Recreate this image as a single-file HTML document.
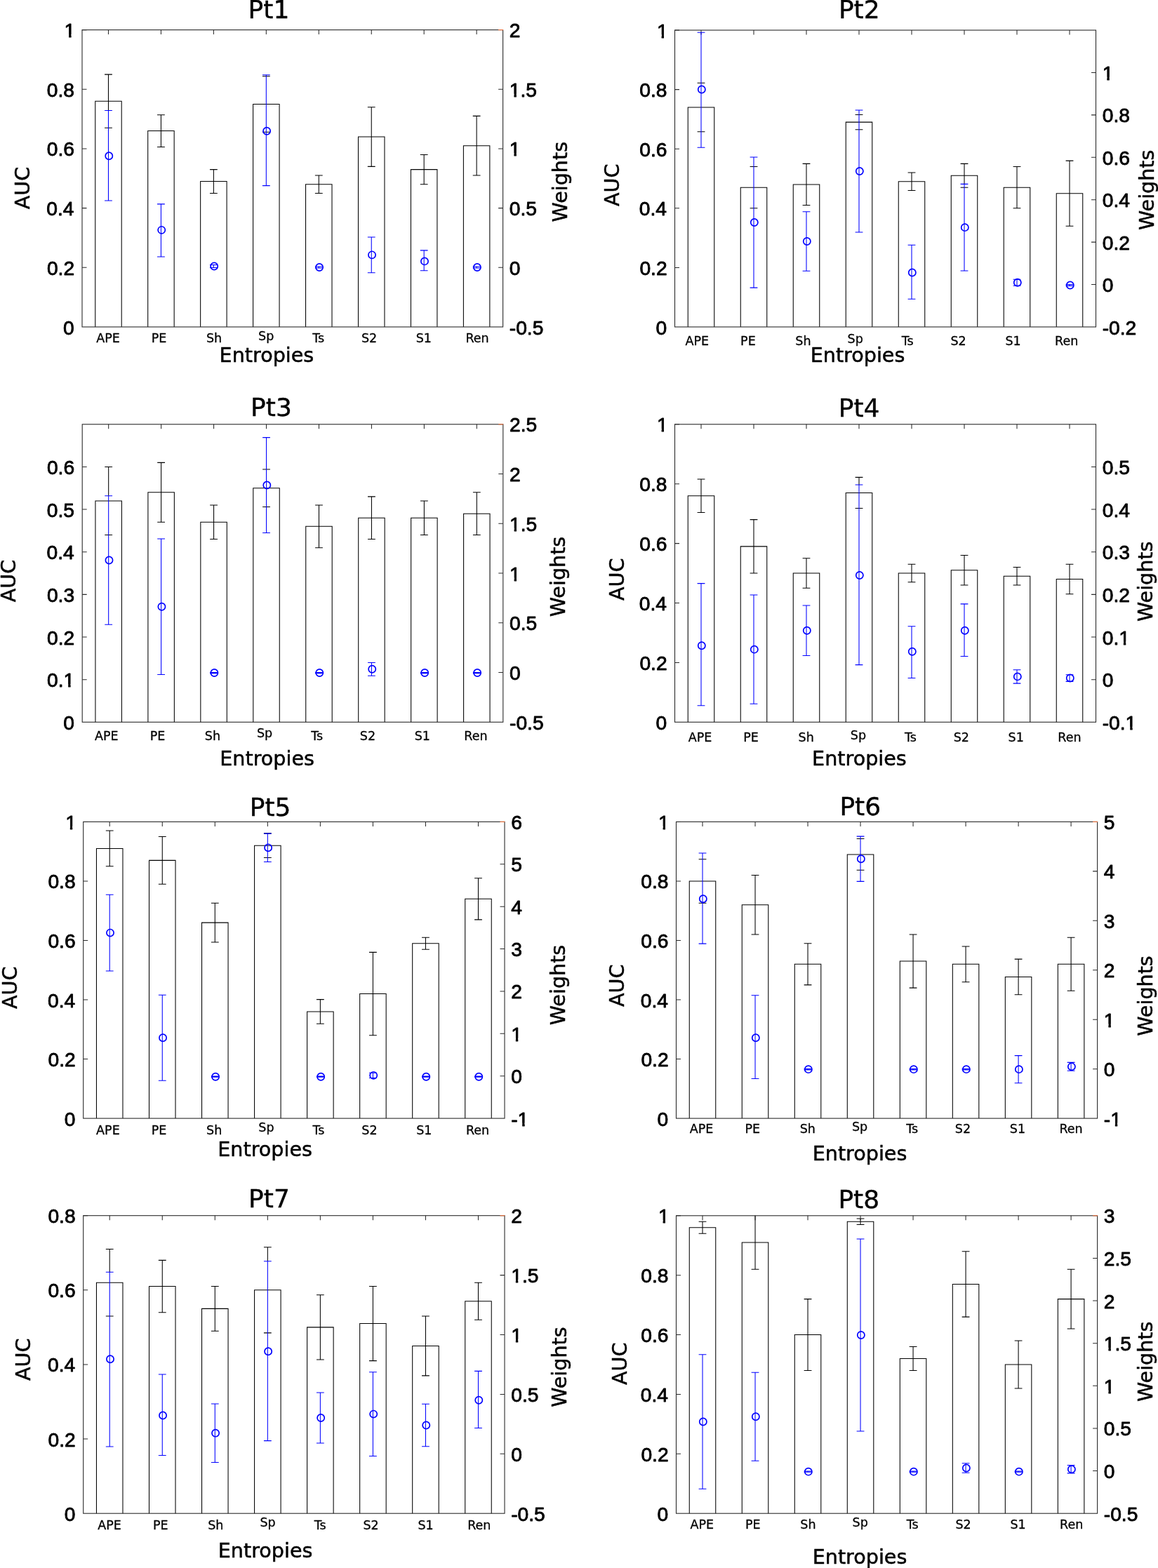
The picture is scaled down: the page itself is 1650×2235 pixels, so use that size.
<!DOCTYPE html>
<html lang="en">
<head>
<meta charset="utf-8">
<title>AUC and weights per entropy, Pt1-Pt8</title>
<style>
html,body{margin:0;padding:0;background:#fff;}
body{width:1650px;height:2235px;overflow:hidden;}
svg{display:block;}
.bar{fill:none;stroke:#000;stroke-width:1.05;stroke-linejoin:miter;}
.err{fill:none;stroke:#000;stroke-width:1.05;}
.ax{fill:none;stroke:#2b2b2b;stroke-width:1.1;}
.tick{fill:none;stroke:#2b2b2b;stroke-width:1.05;}
.or{fill:none;stroke:#ec7440;stroke-width:1.15;}
.be{fill:none;stroke:#0000ff;stroke-width:1.05;}
.bc{fill:none;stroke:#0000ff;stroke-width:1.7;}
text{fill:#000;}
.tl{font-family:"Liberation Sans",Arial,Helvetica,sans-serif;font-size:28.2px;stroke:#000;stroke-width:0.85px;stroke-linejoin:round;}
.xt{font-family:"DejaVu Sans","Liberation Sans",sans-serif;font-size:17.5px;stroke:#000;stroke-width:0.3px;stroke-linejoin:round;}
.lb{font-family:"DejaVu Sans","Liberation Sans",sans-serif;font-size:28.6px;stroke:#000;stroke-width:0.5px;stroke-linejoin:round;}
.ti{font-family:"DejaVu Sans","Liberation Sans",sans-serif;font-size:36.0px;stroke:#000;stroke-width:0.4px;stroke-linejoin:round;}
</style>
</head>
<body>
<svg width="1650" height="2235" viewBox="0 0 1650 2235">
<defs>
<clipPath id="k0"><path clip-rule="evenodd" d="M-20 -60H160V30H-20ZM-1.2 -4.13H6.67V3.42H-1.2ZM10.01 -4.13H16.73V3.42H10.01Z"/></clipPath>
<clipPath id="k1"><path clip-rule="evenodd" d="M-20 -60H160V30H-20ZM-1.2 -4.13H6.67V3.42H-1.2ZM10.01 -4.13H16.73V3.42H10.01Z"/></clipPath>
<clipPath id="k2"><path clip-rule="evenodd" d="M-20 -60H160V30H-20ZM22.32 -4.13H30.19V3.42H22.32ZM33.53 -4.13H40.25V3.42H33.53Z"/></clipPath>
<clipPath id="k3"><path clip-rule="evenodd" d="M-20 -60H160V30H-20ZM31.71 -4.13H39.58V3.42H31.71ZM42.92 -4.13H49.64V3.42H42.92Z"/></clipPath>
<clipPath id="k4"><path clip-rule="evenodd" d="M-20 -60H160V30H-20ZM8.19 -4.13H16.06V3.42H8.19ZM19.4 -4.13H26.12V3.42H19.4Z"/></clipPath>
</defs>
<rect x="0" y="0" width="1650" height="2235" fill="#fff"/>
<g id="Pt1">
<path class="bar" d="M135.74 466V144.22H173.21V466"/>
<path class="bar" d="M210.69 466V186.56H248.16V466"/>
<path class="bar" d="M285.64 466V258.53H323.11V466"/>
<path class="bar" d="M360.59 466V148.45H398.06V466"/>
<path class="bar" d="M435.54 466V262.77H473.01V466"/>
<path class="bar" d="M510.49 466V195.02H547.96V466"/>
<path class="bar" d="M585.44 466V241.6H622.91V466"/>
<path class="bar" d="M660.39 466V207.73H697.86V466"/>
<path class="err" d="M154.47 106.11V157.43M149.07 106.11h10.8M149.07 182.32h10.8"/>
<path class="err" d="M229.43 163.69V209.42M224.03 163.69h10.8M224.03 209.42h10.8"/>
<path class="err" d="M304.38 241.6V275.47M298.98 241.6h10.8M298.98 275.47h10.8"/>
<path class="err" d="M373.93 108.65h10.8M373.93 188.25h10.8"/>
<path class="err" d="M454.28 250.07V275.47M448.88 250.07h10.8M448.88 275.47h10.8"/>
<path class="err" d="M529.23 152.68V237.36M523.83 152.68h10.8M523.83 237.36h10.8"/>
<path class="err" d="M604.17 220.43V262.77M598.77 220.43h10.8M598.77 262.77h10.8"/>
<path class="err" d="M679.12 165.39V250.07M673.73 165.39h10.8M673.73 250.07h10.8"/>
<rect class="ax" x="117" y="42.6" width="599.6" height="423.4"/>
<path class="tick" d="M154.47 42.6v6.5M229.43 42.6v6.5M304.38 42.6v6.5M379.32 42.6v6.5M454.28 42.6v6.5M529.23 42.6v6.5M604.17 42.6v6.5M679.12 42.6v6.5M117 381.32h6.5M117 296.64h6.5M117 211.96h6.5M117 127.28h6.5M117 42.6h6.5M716.6 381.32h-6.5M716.6 296.64h-6.5M716.6 211.96h-6.5M716.6 127.28h-6.5"/>
<path class="or" d="M710.1 42.6h6.9"/>
<path class="be" d="M154.47 157.43V285.97M149.07 157.43h10.8M149.07 285.97h10.8"/>
<circle class="bc" cx="155.28" cy="222.29" r="5.1"/>
<path class="be" d="M229.43 290.86V366.06M224.03 290.86h10.8M224.03 366.06h10.8"/>
<circle class="bc" cx="230.23" cy="327.87" r="5.1"/>
<path class="be" d="M304.38 377.42V381.49M298.98 377.42h10.8M298.98 381.49h10.8"/>
<circle class="bc" cx="305.18" cy="379.46" r="5.1"/>
<path class="be" d="M379.32 106.79V264.63M373.93 106.79h10.8M373.93 264.63h10.8"/>
<circle class="bc" cx="380.12" cy="186.73" r="5.1"/>
<path class="be" d="M454.28 379.97V382M448.88 379.97h10.8M448.88 382h10.8"/>
<circle class="bc" cx="455.08" cy="380.98" r="5.1"/>
<path class="be" d="M529.23 337.96V388.77M523.83 337.96h10.8M523.83 388.77h10.8"/>
<circle class="bc" cx="530.02" cy="363.37" r="5.1"/>
<path class="be" d="M604.17 356.88V385.69M598.77 356.88h10.8M598.77 385.69h10.8"/>
<circle class="bc" cx="604.97" cy="372.41" r="5.1"/>
<path class="be" d="M679.12 379.97V382M673.73 379.97h10.8M673.73 382h10.8"/>
<circle class="bc" cx="679.92" cy="380.98" r="5.1"/>
<text class="tl" transform="translate(90.11 476.5)">0</text>
<text class="tl" transform="translate(66.91 391.82)">0.2</text>
<text class="tl" transform="translate(66.28 307.14)">0.4</text>
<text class="tl" transform="translate(66.7 222.46)">0.6</text>
<text class="tl" transform="translate(66.7 137.78)">0.8</text>
<text class="tl" clip-path="url(#k0)" transform="translate(91.49 53.1)">1</text>
<text class="tl" transform="translate(725.8 476.5)">-0.5</text>
<text class="tl" transform="translate(725.8 391.82)">0</text>
<text class="tl" transform="translate(725.8 307.14)">0.5</text>
<text class="tl" clip-path="url(#k0)" transform="translate(725.8 222.46)">1</text>
<text class="tl" clip-path="url(#k1)" transform="translate(725.8 137.78)">1.5</text>
<text class="tl" transform="translate(725.8 53.1)">2</text>
<text class="xt" x="137.18" y="488">APE</text>
<text class="xt" x="215.73" y="488">PE</text>
<text class="xt" x="293.94" y="488">Sh</text>
<text class="xt" x="368.12" y="484.7">Sp</text>
<text class="xt" x="445.27" y="488">Ts</text>
<text class="xt" x="514.92" y="488">S2</text>
<text class="xt" x="592.78" y="488">S1</text>
<text class="xt" x="663.39" y="488">Ren</text>
<text class="ti" x="353.59" y="25.8">Pt1</text>
<text class="lb" x="312.61" y="515.8">Entropies</text>
<text class="lb" transform="translate(42.3 268.7) rotate(-90)" x="-29.57" y="0">AUC</text>
<text class="lb" transform="translate(808.4 259.4) rotate(-90)" x="-57.06" y="0">Weights</text>
</g>
<g id="Pt2">
<path class="bar" d="M980.25 466V152.98H1017.75V466"/>
<path class="bar" d="M1055.25 466V267.19H1092.75V466"/>
<path class="bar" d="M1130.25 466V262.96H1167.75V466"/>
<path class="bar" d="M1205.25 466V174.13H1242.75V466"/>
<path class="bar" d="M1280.25 466V258.73H1317.75V466"/>
<path class="bar" d="M1355.25 466V250.27H1392.75V466"/>
<path class="bar" d="M1430.25 466V267.19H1467.75V466"/>
<path class="bar" d="M1505.25 466V275.65H1542.75V466"/>
<path class="err" d="M993.6 118.29h10.8M993.6 187.67h10.8"/>
<path class="err" d="M1068.6 237.58h10.8M1068.6 296.8h10.8"/>
<path class="err" d="M1149 233.35V292.57M1143.6 233.35h10.8M1143.6 292.57h10.8"/>
<path class="err" d="M1218.6 163.56h10.8M1218.6 184.71h10.8"/>
<path class="err" d="M1299 246.04V271.42M1293.6 246.04h10.8M1293.6 271.42h10.8"/>
<path class="err" d="M1374 233.35V262.36M1368.6 233.35h10.8M1368.6 267.19h10.8"/>
<path class="err" d="M1449 237.58V296.8M1443.6 237.58h10.8M1443.6 296.8h10.8"/>
<path class="err" d="M1524 229.12V322.18M1518.6 229.12h10.8M1518.6 322.18h10.8"/>
<rect class="ax" x="961.5" y="43" width="600" height="423"/>
<path class="tick" d="M999 43v6.5M1074 43v6.5M1149 43v6.5M1224 43v6.5M1299 43v6.5M1374 43v6.5M1449 43v6.5M1524 43v6.5M961.5 381.4h6.5M961.5 296.8h6.5M961.5 212.2h6.5M961.5 127.6h6.5M961.5 43h6.5M1561.5 405.57h-6.5M1561.5 345.14h-6.5M1561.5 284.71h-6.5M1561.5 224.29h-6.5M1561.5 163.86h-6.5M1561.5 103.43h-6.5"/>
<path class="be" d="M999 46.2V210.27M993.6 46.2h10.8M993.6 210.27h10.8"/>
<circle class="bc" cx="999.8" cy="127.48" r="5.1"/>
<path class="be" d="M1074 223.98V410.1M1068.6 223.98h10.8M1068.6 410.1h10.8"/>
<circle class="bc" cx="1074.8" cy="317.04" r="5.1"/>
<path class="be" d="M1149 301.69V386.29M1143.6 301.69h10.8M1143.6 386.29h10.8"/>
<circle class="bc" cx="1149.8" cy="343.99" r="5.1"/>
<path class="be" d="M1224 156.97V331M1218.6 156.97h10.8M1218.6 331h10.8"/>
<circle class="bc" cx="1224.8" cy="243.99" r="5.1"/>
<path class="be" d="M1299 349.22V426.27M1293.6 349.22h10.8M1293.6 426.27h10.8"/>
<circle class="bc" cx="1299.8" cy="388.5" r="5.1"/>
<path class="be" d="M1374 262.36V385.93M1368.6 262.36h10.8M1368.6 385.93h10.8"/>
<circle class="bc" cx="1374.8" cy="324.14" r="5.1"/>
<path class="be" d="M1449 398.17V407.23M1443.6 398.17h10.8M1443.6 407.23h10.8"/>
<circle class="bc" cx="1449.8" cy="402.7" r="5.1"/>
<path class="be" d="M1524 405.57V407.38M1518.6 405.57h10.8M1518.6 407.38h10.8"/>
<circle class="bc" cx="1524.8" cy="406.48" r="5.1"/>
<text class="tl" transform="translate(934.61 476.5)">0</text>
<text class="tl" transform="translate(911.41 391.9)">0.2</text>
<text class="tl" transform="translate(910.78 307.3)">0.4</text>
<text class="tl" transform="translate(911.2 222.7)">0.6</text>
<text class="tl" transform="translate(911.2 138.1)">0.8</text>
<text class="tl" clip-path="url(#k0)" transform="translate(935.99 53.5)">1</text>
<text class="tl" transform="translate(1570.7 476.5)">-0.2</text>
<text class="tl" transform="translate(1570.7 416.07)">0</text>
<text class="tl" transform="translate(1570.7 355.64)">0.2</text>
<text class="tl" transform="translate(1570.7 295.21)">0.4</text>
<text class="tl" transform="translate(1570.7 234.79)">0.6</text>
<text class="tl" transform="translate(1570.7 174.36)">0.8</text>
<text class="tl" clip-path="url(#k0)" transform="translate(1570.7 113.93)">1</text>
<text class="xt" x="976.5" y="491.8">APE</text>
<text class="xt" x="1055.11" y="491.8">PE</text>
<text class="xt" x="1133.36" y="491.8">Sh</text>
<text class="xt" x="1207.6" y="488.5">Sp</text>
<text class="xt" x="1284.79" y="491.8">Ts</text>
<text class="xt" x="1354.49" y="491.8">S2</text>
<text class="xt" x="1432.41" y="491.8">S1</text>
<text class="xt" x="1503.07" y="491.8">Ren</text>
<text class="ti" x="1194.89" y="26.3">Pt2</text>
<text class="lb" x="1154.71" y="515.8">Entropies</text>
<text class="lb" transform="translate(881.8 264.4) rotate(-90)" x="-29.57" y="0">AUC</text>
<text class="lb" transform="translate(1644 271) rotate(-90)" x="-57.06" y="0">Weights</text>
</g>
<g id="Pt3">
<path class="bar" d="M135.94 1029.3V713.96H173.41V1029.3"/>
<path class="bar" d="M210.89 1029.3V701.83H248.36V1029.3"/>
<path class="bar" d="M285.84 1029.3V744.28H323.31V1029.3"/>
<path class="bar" d="M360.79 1029.3V695.76H398.26V1029.3"/>
<path class="bar" d="M435.74 1029.3V750.34H473.21V1029.3"/>
<path class="bar" d="M510.69 1029.3V738.21H548.16V1029.3"/>
<path class="bar" d="M585.64 1029.3V738.21H623.11V1029.3"/>
<path class="bar" d="M660.59 1029.3V732.15H698.06V1029.3"/>
<path class="err" d="M154.68 665.44V706.82M149.28 665.44h10.8M149.28 762.47h10.8"/>
<path class="err" d="M229.62 659.38V744.28M224.22 659.38h10.8M224.22 744.28h10.8"/>
<path class="err" d="M304.57 720.02V768.54M299.18 720.02h10.8M299.18 768.54h10.8"/>
<path class="err" d="M374.12 669.08h10.8M374.12 722.45h10.8"/>
<path class="err" d="M454.47 720.02V780.66M449.07 720.02h10.8M449.07 780.66h10.8"/>
<path class="err" d="M529.42 707.89V768.54M524.02 707.89h10.8M524.02 768.54h10.8"/>
<path class="err" d="M604.38 713.96V762.47M598.98 713.96h10.8M598.98 762.47h10.8"/>
<path class="err" d="M679.32 701.83V762.47M673.92 701.83h10.8M673.92 762.47h10.8"/>
<rect class="ax" x="117.2" y="604.8" width="599.6" height="424.5"/>
<path class="tick" d="M154.68 604.8v6.5M229.62 604.8v6.5M304.57 604.8v6.5M379.52 604.8v6.5M454.47 604.8v6.5M529.42 604.8v6.5M604.38 604.8v6.5M679.32 604.8v6.5M117.2 968.66h6.5M117.2 908.01h6.5M117.2 847.37h6.5M117.2 786.73h6.5M117.2 726.09h6.5M117.2 665.44h6.5M716.8 958.55h-6.5M716.8 887.8h-6.5M716.8 817.05h-6.5M716.8 746.3h-6.5M716.8 675.55h-6.5"/>
<path class="or" d="M710.3 604.8h6.9"/>
<path class="be" d="M154.68 706.82V890.21M149.28 706.82h10.8M149.28 890.21h10.8"/>
<circle class="bc" cx="155.48" cy="798.51" r="5.1"/>
<path class="be" d="M229.62 768.02V961.59M224.22 768.02h10.8M224.22 961.59h10.8"/>
<circle class="bc" cx="230.43" cy="864.81" r="5.1"/>
<path class="be" d="M304.57 958.48V959.61M299.18 958.48h10.8M299.18 959.61h10.8"/>
<circle class="bc" cx="305.38" cy="959.05" r="5.1"/>
<path class="be" d="M379.52 623.62V759.46M374.12 623.62h10.8M374.12 759.46h10.8"/>
<circle class="bc" cx="380.32" cy="691.54" r="5.1"/>
<path class="be" d="M454.47 958.48V959.61M449.07 958.48h10.8M449.07 959.61h10.8"/>
<circle class="bc" cx="455.27" cy="959.05" r="5.1"/>
<path class="be" d="M529.42 944.41V963.21M524.02 944.41h10.8M524.02 963.21h10.8"/>
<circle class="bc" cx="530.22" cy="953.81" r="5.1"/>
<path class="be" d="M604.38 958.48V959.61M598.98 958.48h10.8M598.98 959.61h10.8"/>
<circle class="bc" cx="605.17" cy="959.05" r="5.1"/>
<path class="be" d="M679.32 958.48V959.61M673.92 958.48h10.8M673.92 959.61h10.8"/>
<circle class="bc" cx="680.12" cy="959.05" r="5.1"/>
<text class="tl" transform="translate(90.31 1039.8)">0</text>
<text class="tl" clip-path="url(#k2)" transform="translate(67.04 979.16)">0.1</text>
<text class="tl" transform="translate(67.11 918.51)">0.2</text>
<text class="tl" transform="translate(66.9 857.87)">0.3</text>
<text class="tl" transform="translate(66.48 797.23)">0.4</text>
<text class="tl" transform="translate(66.83 736.59)">0.5</text>
<text class="tl" transform="translate(66.9 675.94)">0.6</text>
<text class="tl" transform="translate(726 1039.8)">-0.5</text>
<text class="tl" transform="translate(726 969.05)">0</text>
<text class="tl" transform="translate(726 898.3)">0.5</text>
<text class="tl" clip-path="url(#k0)" transform="translate(726 827.55)">1</text>
<text class="tl" clip-path="url(#k1)" transform="translate(726 756.8)">1.5</text>
<text class="tl" transform="translate(726 686.05)">2</text>
<text class="tl" transform="translate(726 615.3)">2.5</text>
<text class="xt" x="135.08" y="1054.5">APE</text>
<text class="xt" x="213.63" y="1054.5">PE</text>
<text class="xt" x="291.84" y="1054.5">Sh</text>
<text class="xt" x="366.02" y="1051.2">Sp</text>
<text class="xt" x="443.17" y="1054.5">Ts</text>
<text class="xt" x="512.82" y="1054.5">S2</text>
<text class="xt" x="590.68" y="1054.5">S1</text>
<text class="xt" x="661.29" y="1054.5">Ren</text>
<text class="ti" x="357.09" y="592.6">Pt3</text>
<text class="lb" x="313.31" y="1091.3">Entropies</text>
<text class="lb" transform="translate(21.6 828.7) rotate(-90)" x="-29.57" y="0">AUC</text>
<text class="lb" transform="translate(804.6 822.2) rotate(-90)" x="-57.06" y="0">Weights</text>
</g>
<g id="Pt4">
<path class="bar" d="M980.25 1029.3V706.68H1017.75V1029.3"/>
<path class="bar" d="M1055.25 1029.3V778.85H1092.75V1029.3"/>
<path class="bar" d="M1130.25 1029.3V817.05H1167.75V1029.3"/>
<path class="bar" d="M1205.25 1029.3V702.43H1242.75V1029.3"/>
<path class="bar" d="M1280.25 1029.3V817.05H1317.75V1029.3"/>
<path class="bar" d="M1355.25 1029.3V812.8H1392.75V1029.3"/>
<path class="bar" d="M1430.25 1029.3V821.29H1467.75V1029.3"/>
<path class="bar" d="M1505.25 1029.3V825.54H1542.75V1029.3"/>
<path class="err" d="M999 682.91V730.45M993.6 682.91h10.8M993.6 730.45h10.8"/>
<path class="err" d="M1074 740.64V817.05M1068.6 740.64h10.8M1068.6 817.05h10.8"/>
<path class="err" d="M1149 795.82V838.27M1143.6 795.82h10.8M1143.6 838.27h10.8"/>
<path class="err" d="M1224 680.36V690.91M1218.6 680.36h10.8M1218.6 724.51h10.8"/>
<path class="err" d="M1299 804.31V829.78M1293.6 804.31h10.8M1293.6 829.78h10.8"/>
<path class="err" d="M1374 791.58V834.03M1368.6 791.58h10.8M1368.6 834.03h10.8"/>
<path class="err" d="M1449 808.56V834.03M1443.6 808.56h10.8M1443.6 834.03h10.8"/>
<path class="err" d="M1524 804.31V846.76M1518.6 804.31h10.8M1518.6 846.76h10.8"/>
<rect class="ax" x="961.5" y="604.8" width="600" height="424.5"/>
<path class="tick" d="M999 604.8v6.5M1074 604.8v6.5M1149 604.8v6.5M1224 604.8v6.5M1299 604.8v6.5M1374 604.8v6.5M1449 604.8v6.5M1524 604.8v6.5M961.5 944.4h6.5M961.5 859.5h6.5M961.5 774.6h6.5M961.5 689.7h6.5M961.5 604.8h6.5M1561.5 968.66h-6.5M1561.5 908.01h-6.5M1561.5 847.37h-6.5M1561.5 786.73h-6.5M1561.5 726.09h-6.5M1561.5 665.44h-6.5"/>
<path class="be" d="M999 831.6V1005.83M993.6 831.6h10.8M993.6 1005.83h10.8"/>
<circle class="bc" cx="999.8" cy="920.32" r="5.1"/>
<path class="be" d="M1074 848.04V1003.28M1068.6 848.04h10.8M1068.6 1003.28h10.8"/>
<circle class="bc" cx="1074.8" cy="925.66" r="5.1"/>
<path class="be" d="M1149 862.96V934.52M1143.6 862.96h10.8M1143.6 934.52h10.8"/>
<circle class="bc" cx="1149.8" cy="898.74" r="5.1"/>
<path class="be" d="M1224 690.91V947.61M1218.6 690.91h10.8M1218.6 947.61h10.8"/>
<circle class="bc" cx="1224.8" cy="819.96" r="5.1"/>
<path class="be" d="M1299 892.73V966.41M1293.6 892.73h10.8M1293.6 966.41h10.8"/>
<circle class="bc" cx="1299.8" cy="928.81" r="5.1"/>
<path class="be" d="M1374 860.89V935.55M1368.6 860.89h10.8M1368.6 935.55h10.8"/>
<circle class="bc" cx="1374.8" cy="898.74" r="5.1"/>
<path class="be" d="M1449 954.71V974.12M1443.6 954.71h10.8M1443.6 974.12h10.8"/>
<circle class="bc" cx="1449.8" cy="964.41" r="5.1"/>
<path class="be" d="M1524 961.68V971.39M1518.6 961.68h10.8M1518.6 971.39h10.8"/>
<circle class="bc" cx="1524.8" cy="966.53" r="5.1"/>
<text class="tl" transform="translate(934.61 1039.8)">0</text>
<text class="tl" transform="translate(911.41 954.9)">0.2</text>
<text class="tl" transform="translate(910.78 870)">0.4</text>
<text class="tl" transform="translate(911.2 785.1)">0.6</text>
<text class="tl" transform="translate(911.2 700.2)">0.8</text>
<text class="tl" clip-path="url(#k0)" transform="translate(935.99 615.3)">1</text>
<text class="tl" clip-path="url(#k3)" transform="translate(1570.7 1039.8)">-0.1</text>
<text class="tl" transform="translate(1570.7 979.16)">0</text>
<text class="tl" clip-path="url(#k2)" transform="translate(1570.7 918.51)">0.1</text>
<text class="tl" transform="translate(1570.7 857.87)">0.2</text>
<text class="tl" transform="translate(1570.7 797.23)">0.3</text>
<text class="tl" transform="translate(1570.7 736.59)">0.4</text>
<text class="tl" transform="translate(1570.7 675.94)">0.5</text>
<text class="xt" x="980.7" y="1056.9">APE</text>
<text class="xt" x="1059.31" y="1056.9">PE</text>
<text class="xt" x="1137.56" y="1056.9">Sh</text>
<text class="xt" x="1211.8" y="1053.6">Sp</text>
<text class="xt" x="1288.99" y="1056.9">Ts</text>
<text class="xt" x="1358.69" y="1056.9">S2</text>
<text class="xt" x="1436.61" y="1056.9">S1</text>
<text class="xt" x="1507.27" y="1056.9">Ren</text>
<text class="ti" x="1194.69" y="594">Pt4</text>
<text class="lb" x="1157.11" y="1090.6">Entropies</text>
<text class="lb" transform="translate(889.4 826.5) rotate(-90)" x="-29.57" y="0">AUC</text>
<text class="lb" transform="translate(1642 829) rotate(-90)" x="-57.06" y="0">Weights</text>
</g>
<g id="Pt5">
<path class="bar" d="M137.46 1594.1V1209.44H174.98V1594.1"/>
<path class="bar" d="M212.5 1594.1V1226.35H250.02V1594.1"/>
<path class="bar" d="M287.53 1594.1V1315.12H325.05V1594.1"/>
<path class="bar" d="M362.57 1594.1V1205.22H400.09V1594.1"/>
<path class="bar" d="M437.61 1594.1V1441.93H475.13V1594.1"/>
<path class="bar" d="M512.65 1594.1V1416.57H550.17V1594.1"/>
<path class="bar" d="M587.68 1594.1V1344.71H625.2V1594.1"/>
<path class="bar" d="M662.72 1594.1V1281.3H700.24V1594.1"/>
<path class="err" d="M156.22 1184.08V1234.81M150.82 1184.08h10.8M150.82 1234.81h10.8"/>
<path class="err" d="M231.26 1192.54V1260.17M225.86 1192.54h10.8M225.86 1260.17h10.8"/>
<path class="err" d="M306.29 1287.22V1343.02M300.89 1287.22h10.8M300.89 1343.02h10.8"/>
<path class="err" d="M381.33 1187.89V1188.13M375.93 1187.89h10.8M375.93 1222.55h10.8"/>
<path class="err" d="M456.37 1424.6V1459.26M450.97 1424.6h10.8M450.97 1459.26h10.8"/>
<path class="err" d="M531.41 1357.39V1475.74M526.01 1357.39h10.8M526.01 1475.74h10.8"/>
<path class="err" d="M606.44 1336.25V1353.16M601.04 1336.25h10.8M601.04 1353.16h10.8"/>
<path class="err" d="M681.48 1251.71V1310.89M676.08 1251.71h10.8M676.08 1310.89h10.8"/>
<rect class="ax" x="118.7" y="1171.4" width="600.3" height="422.7"/>
<path class="tick" d="M156.22 1171.4v6.5M231.26 1171.4v6.5M306.29 1171.4v6.5M381.33 1171.4v6.5M456.37 1171.4v6.5M531.41 1171.4v6.5M606.44 1171.4v6.5M681.48 1171.4v6.5M118.7 1509.56h6.5M118.7 1425.02h6.5M118.7 1340.48h6.5M118.7 1255.94h6.5M118.7 1171.4h6.5M719 1533.71h-6.5M719 1473.33h-6.5M719 1412.94h-6.5M719 1352.56h-6.5M719 1292.17h-6.5M719 1231.79h-6.5"/>
<path class="or" d="M712.5 1171.4h6.9"/>
<path class="be" d="M156.22 1275.26V1383.96M150.82 1275.26h10.8M150.82 1383.96h10.8"/>
<circle class="bc" cx="157.02" cy="1329.61" r="5.1"/>
<path class="be" d="M231.26 1418.2V1540.18M225.86 1418.2h10.8M225.86 1540.18h10.8"/>
<circle class="bc" cx="232.06" cy="1479.19" r="5.1"/>
<path class="be" d="M306.29 1534.11V1535.31M300.89 1534.11h10.8M300.89 1535.31h10.8"/>
<circle class="bc" cx="307.09" cy="1534.71" r="5.1"/>
<path class="be" d="M381.33 1188.13V1228.59M375.93 1188.13h10.8M375.93 1228.59h10.8"/>
<circle class="bc" cx="382.13" cy="1208.36" r="5.1"/>
<path class="be" d="M456.37 1534.11V1535.31M450.97 1534.11h10.8M450.97 1535.31h10.8"/>
<circle class="bc" cx="457.17" cy="1534.71" r="5.1"/>
<path class="be" d="M531.41 1529.25V1536.49M526.01 1529.25h10.8M526.01 1536.49h10.8"/>
<circle class="bc" cx="532.21" cy="1532.87" r="5.1"/>
<path class="be" d="M606.44 1534.11V1535.31M601.04 1534.11h10.8M601.04 1535.31h10.8"/>
<circle class="bc" cx="607.24" cy="1534.71" r="5.1"/>
<path class="be" d="M681.48 1534.11V1535.31M676.08 1534.11h10.8M676.08 1535.31h10.8"/>
<circle class="bc" cx="682.28" cy="1534.71" r="5.1"/>
<text class="tl" transform="translate(91.81 1604.6)">0</text>
<text class="tl" transform="translate(68.61 1520.06)">0.2</text>
<text class="tl" transform="translate(67.98 1435.52)">0.4</text>
<text class="tl" transform="translate(68.4 1350.98)">0.6</text>
<text class="tl" transform="translate(68.4 1266.44)">0.8</text>
<text class="tl" clip-path="url(#k0)" transform="translate(93.19 1181.9)">1</text>
<text class="tl" clip-path="url(#k4)" transform="translate(728.2 1604.6)">-1</text>
<text class="tl" transform="translate(728.2 1544.21)">0</text>
<text class="tl" clip-path="url(#k0)" transform="translate(728.2 1483.83)">1</text>
<text class="tl" transform="translate(728.2 1423.44)">2</text>
<text class="tl" transform="translate(728.2 1363.06)">3</text>
<text class="tl" transform="translate(728.2 1302.67)">4</text>
<text class="tl" transform="translate(728.2 1242.29)">5</text>
<text class="tl" transform="translate(728.2 1181.9)">6</text>
<text class="xt" x="137.12" y="1616.7">APE</text>
<text class="xt" x="215.77" y="1616.7">PE</text>
<text class="xt" x="294.06" y="1616.7">Sh</text>
<text class="xt" x="368.33" y="1613.4">Sp</text>
<text class="xt" x="445.56" y="1616.7">Ts</text>
<text class="xt" x="515.3" y="1616.7">S2</text>
<text class="xt" x="593.25" y="1616.7">S1</text>
<text class="xt" x="663.95" y="1616.7">Ren</text>
<text class="ti" x="355.79" y="1162.5">Pt5</text>
<text class="lb" x="310.31" y="1648.1">Entropies</text>
<text class="lb" transform="translate(23.8 1408.4) rotate(-90)" x="-29.57" y="0">AUC</text>
<text class="lb" transform="translate(805 1404.2) rotate(-90)" x="-57.06" y="0">Weights</text>
</g>
<g id="Pt6">
<path class="bar" d="M982.25 1594.1V1255.94H1019.76V1594.1"/>
<path class="bar" d="M1057.27 1594.1V1289.76H1094.77V1594.1"/>
<path class="bar" d="M1132.28 1594.1V1374.3H1169.78V1594.1"/>
<path class="bar" d="M1207.29 1594.1V1217.9H1244.8V1594.1"/>
<path class="bar" d="M1282.3 1594.1V1370.07H1319.81V1594.1"/>
<path class="bar" d="M1357.32 1594.1V1374.3H1394.82V1594.1"/>
<path class="bar" d="M1432.33 1594.1V1392.47H1469.83V1594.1"/>
<path class="bar" d="M1507.34 1594.1V1374.3H1544.85V1594.1"/>
<path class="err" d="M995.61 1224.66h10.8M995.61 1287.22h10.8"/>
<path class="err" d="M1076.02 1247.49V1332.03M1070.62 1247.49h10.8M1070.62 1332.03h10.8"/>
<path class="err" d="M1151.03 1344.71V1403.88M1145.63 1344.71h10.8M1145.63 1403.88h10.8"/>
<path class="err" d="M1220.64 1195.49h10.8M1220.64 1240.3h10.8"/>
<path class="err" d="M1301.06 1332.03V1408.11M1295.66 1332.03h10.8M1295.66 1408.11h10.8"/>
<path class="err" d="M1376.07 1348.93V1399.66M1370.67 1348.93h10.8M1370.67 1399.66h10.8"/>
<path class="err" d="M1451.08 1367.11V1417.83M1445.68 1367.11h10.8M1445.68 1417.83h10.8"/>
<path class="err" d="M1526.09 1336.25V1412.34M1520.69 1336.25h10.8M1520.69 1412.34h10.8"/>
<rect class="ax" x="963.5" y="1171.4" width="600.1" height="422.7"/>
<path class="tick" d="M1001.01 1171.4v6.5M1076.02 1171.4v6.5M1151.03 1171.4v6.5M1226.04 1171.4v6.5M1301.06 1171.4v6.5M1376.07 1171.4v6.5M1451.08 1171.4v6.5M1526.09 1171.4v6.5M963.5 1509.56h6.5M963.5 1425.02h6.5M963.5 1340.48h6.5M963.5 1255.94h6.5M963.5 1171.4h6.5M1563.6 1523.65h-6.5M1563.6 1453.2h-6.5M1563.6 1382.75h-6.5M1563.6 1312.3h-6.5M1563.6 1241.85h-6.5"/>
<path class="or" d="M1557.1 1171.4h6.9"/>
<path class="be" d="M1001.01 1215.92V1345.13M995.61 1215.92h10.8M995.61 1345.13h10.8"/>
<circle class="bc" cx="1001.81" cy="1281.3" r="5.1"/>
<path class="be" d="M1076.02 1418.82V1537.53M1070.62 1418.82h10.8M1070.62 1537.53h10.8"/>
<circle class="bc" cx="1076.82" cy="1479.2" r="5.1"/>
<path class="be" d="M1151.03 1523.44V1524.85M1145.63 1523.44h10.8M1145.63 1524.85h10.8"/>
<circle class="bc" cx="1151.83" cy="1524.14" r="5.1"/>
<path class="be" d="M1226.04 1192.11V1256.36M1220.64 1192.11h10.8M1220.64 1256.36h10.8"/>
<circle class="bc" cx="1226.84" cy="1224.24" r="5.1"/>
<path class="be" d="M1301.06 1523.44V1524.85M1295.66 1523.44h10.8M1295.66 1524.85h10.8"/>
<circle class="bc" cx="1301.86" cy="1524.14" r="5.1"/>
<path class="be" d="M1376.07 1523.44V1524.85M1370.67 1523.44h10.8M1370.67 1524.85h10.8"/>
<circle class="bc" cx="1376.87" cy="1524.14" r="5.1"/>
<path class="be" d="M1451.08 1504.63V1543.66M1445.68 1504.63h10.8M1445.68 1543.66h10.8"/>
<circle class="bc" cx="1451.88" cy="1524.14" r="5.1"/>
<path class="be" d="M1526.09 1514.35V1526.33M1520.69 1514.35h10.8M1520.69 1526.33h10.8"/>
<circle class="bc" cx="1526.89" cy="1520.34" r="5.1"/>
<text class="tl" transform="translate(936.61 1604.6)">0</text>
<text class="tl" transform="translate(913.41 1520.06)">0.2</text>
<text class="tl" transform="translate(912.78 1435.52)">0.4</text>
<text class="tl" transform="translate(913.2 1350.98)">0.6</text>
<text class="tl" transform="translate(913.2 1266.44)">0.8</text>
<text class="tl" clip-path="url(#k0)" transform="translate(937.99 1181.9)">1</text>
<text class="tl" clip-path="url(#k4)" transform="translate(1572.8 1604.6)">-1</text>
<text class="tl" transform="translate(1572.8 1534.15)">0</text>
<text class="tl" clip-path="url(#k0)" transform="translate(1572.8 1463.7)">1</text>
<text class="tl" transform="translate(1572.8 1393.25)">2</text>
<text class="tl" transform="translate(1572.8 1322.8)">3</text>
<text class="tl" transform="translate(1572.8 1252.35)">4</text>
<text class="tl" transform="translate(1572.8 1181.9)">5</text>
<text class="xt" x="982.81" y="1615">APE</text>
<text class="xt" x="1061.43" y="1615">PE</text>
<text class="xt" x="1139.69" y="1615">Sh</text>
<text class="xt" x="1213.94" y="1611.7">Sp</text>
<text class="xt" x="1291.15" y="1615">Ts</text>
<text class="xt" x="1360.86" y="1615">S2</text>
<text class="xt" x="1438.79" y="1615">S1</text>
<text class="xt" x="1509.46" y="1615">Ren</text>
<text class="ti" x="1196.39" y="1161.9">Pt6</text>
<text class="lb" x="1157.71" y="1653.8">Entropies</text>
<text class="lb" transform="translate(889.4 1405.4) rotate(-90)" x="-29.57" y="0">AUC</text>
<text class="lb" transform="translate(1642 1419.7) rotate(-90)" x="-57.06" y="0">Weights</text>
</g>
<g id="Pt7">
<path class="bar" d="M137.46 2157.2V1828.21H174.98V2157.2"/>
<path class="bar" d="M212.5 2157.2V1833.52H250.02V2157.2"/>
<path class="bar" d="M287.53 2157.2V1865.36H325.05V2157.2"/>
<path class="bar" d="M362.57 2157.2V1838.83H400.09V2157.2"/>
<path class="bar" d="M437.61 2157.2V1891.89H475.13V2157.2"/>
<path class="bar" d="M512.65 2157.2V1886.58H550.17V2157.2"/>
<path class="bar" d="M587.68 2157.2V1918.42H625.2V2157.2"/>
<path class="bar" d="M662.72 2157.2V1854.74H700.24V2157.2"/>
<path class="err" d="M156.22 1780.46V1813.25M150.82 1780.46h10.8M150.82 1875.97h10.8"/>
<path class="err" d="M231.26 1796.38V1870.66M225.86 1796.38h10.8M225.86 1870.66h10.8"/>
<path class="err" d="M306.29 1833.52V1897.19M300.89 1833.52h10.8M300.89 1897.19h10.8"/>
<path class="err" d="M381.33 1777.8V1797.73M375.93 1777.8h10.8M375.93 1899.85h10.8"/>
<path class="err" d="M456.37 1845.72V1938.05M450.97 1845.72h10.8M450.97 1938.05h10.8"/>
<path class="err" d="M531.41 1833.52V1939.64M526.01 1833.52h10.8M526.01 1939.64h10.8"/>
<path class="err" d="M606.44 1875.97V1960.87M601.04 1875.97h10.8M601.04 1960.87h10.8"/>
<path class="err" d="M681.48 1828.21V1881.28M676.08 1828.21h10.8M676.08 1881.28h10.8"/>
<rect class="ax" x="118.7" y="1732.7" width="600.3" height="424.5"/>
<path class="tick" d="M156.22 1732.7v6.5M231.26 1732.7v6.5M306.29 1732.7v6.5M381.33 1732.7v6.5M456.37 1732.7v6.5M531.41 1732.7v6.5M606.44 1732.7v6.5M681.48 1732.7v6.5M118.7 2051.07h6.5M118.7 1944.95h6.5M118.7 1838.83h6.5M118.7 1732.7h6.5M719 2072.3h-6.5M719 1987.4h-6.5M719 1902.5h-6.5M719 1817.6h-6.5"/>
<path class="or" d="M712.5 1732.7h6.9"/>
<path class="be" d="M156.22 1813.25V2062.01M150.82 1813.25h10.8M150.82 2062.01h10.8"/>
<circle class="bc" cx="157.02" cy="1937.21" r="5.1"/>
<path class="be" d="M231.26 1958.96V2074.42M225.86 1958.96h10.8M225.86 2074.42h10.8"/>
<circle class="bc" cx="232.06" cy="2017.54" r="5.1"/>
<path class="be" d="M306.29 2000.9V2084.44M300.89 2000.9h10.8M300.89 2084.44h10.8"/>
<circle class="bc" cx="307.09" cy="2042.67" r="5.1"/>
<path class="be" d="M381.33 1797.73V2053.62M375.93 1797.73h10.8M375.93 2053.62h10.8"/>
<circle class="bc" cx="382.13" cy="1926.27" r="5.1"/>
<path class="be" d="M456.37 1985.02V2057.02M450.97 1985.02h10.8M450.97 2057.02h10.8"/>
<circle class="bc" cx="457.17" cy="2021.02" r="5.1"/>
<path class="be" d="M531.41 1955.65V2075.53M526.01 1955.65h10.8M526.01 2075.53h10.8"/>
<circle class="bc" cx="532.21" cy="2015.59" r="5.1"/>
<path class="be" d="M606.44 2001.32V2061.77M601.04 2001.32h10.8M601.04 2061.77h10.8"/>
<circle class="bc" cx="607.24" cy="2031.55" r="5.1"/>
<path class="be" d="M681.48 1954.37V2035.57M676.08 1954.37h10.8M676.08 2035.57h10.8"/>
<circle class="bc" cx="682.28" cy="1995.72" r="5.1"/>
<text class="tl" transform="translate(91.81 2167.7)">0</text>
<text class="tl" transform="translate(68.61 2061.57)">0.2</text>
<text class="tl" transform="translate(67.98 1955.45)">0.4</text>
<text class="tl" transform="translate(68.4 1849.33)">0.6</text>
<text class="tl" transform="translate(68.4 1743.2)">0.8</text>
<text class="tl" transform="translate(728.2 2167.7)">-0.5</text>
<text class="tl" transform="translate(728.2 2082.8)">0</text>
<text class="tl" transform="translate(728.2 1997.9)">0.5</text>
<text class="tl" clip-path="url(#k0)" transform="translate(728.2 1913)">1</text>
<text class="tl" clip-path="url(#k1)" transform="translate(728.2 1828.1)">1.5</text>
<text class="tl" transform="translate(728.2 1743.2)">2</text>
<text class="xt" x="139.32" y="2179.6">APE</text>
<text class="xt" x="217.97" y="2179.6">PE</text>
<text class="xt" x="296.26" y="2179.6">Sh</text>
<text class="xt" x="370.53" y="2176.3">Sp</text>
<text class="xt" x="447.76" y="2179.6">Ts</text>
<text class="xt" x="517.5" y="2179.6">S2</text>
<text class="xt" x="595.45" y="2179.6">S1</text>
<text class="xt" x="666.15" y="2179.6">Ren</text>
<text class="ti" x="354.09" y="1720.5">Pt7</text>
<text class="lb" x="310.81" y="2220.3">Entropies</text>
<text class="lb" transform="translate(42.6 1938.4) rotate(-90)" x="-29.57" y="0">AUC</text>
<text class="lb" transform="translate(806.7 1948.8) rotate(-90)" x="-57.06" y="0">Weights</text>
</g>
<g id="Pt8">
<path class="bar" d="M982.25 2157.2V1749.78H1019.76V2157.2"/>
<path class="bar" d="M1057.27 2157.2V1771H1094.77V2157.2"/>
<path class="bar" d="M1132.28 2157.2V1902.56H1169.78V2157.2"/>
<path class="bar" d="M1207.29 2157.2V1741.29H1244.8V2157.2"/>
<path class="bar" d="M1282.3 2157.2V1936.51H1319.81V2157.2"/>
<path class="bar" d="M1357.32 2157.2V1830.41H1394.82V2157.2"/>
<path class="bar" d="M1432.33 2157.2V1945H1469.83V2157.2"/>
<path class="bar" d="M1507.34 2157.2V1851.63H1544.85V2157.2"/>
<path class="err" d="M1001.01 1741.29V1758.26M995.61 1741.29h10.8M995.61 1758.26h10.8"/>
<path class="err" d="M1076.02 1732.8V1809.19M1070.62 1809.19h10.8"/>
<path class="err" d="M1151.03 1851.63V1953.49M1145.63 1851.63h10.8M1145.63 1953.49h10.8"/>
<path class="err" d="M1226.04 1737.04V1745.53M1220.64 1737.04h10.8M1220.64 1745.53h10.8"/>
<path class="err" d="M1301.06 1919.54V1953.49M1295.66 1919.54h10.8M1295.66 1953.49h10.8"/>
<path class="err" d="M1376.07 1783.73V1877.1M1370.67 1783.73h10.8M1370.67 1877.1h10.8"/>
<path class="err" d="M1451.08 1911.05V1978.95M1445.68 1911.05h10.8M1445.68 1978.95h10.8"/>
<path class="err" d="M1526.09 1809.19V1894.07M1520.69 1809.19h10.8M1520.69 1894.07h10.8"/>
<rect class="ax" x="963.5" y="1732.8" width="600.1" height="424.4"/>
<path class="tick" d="M1001.01 1732.8v6.5M1076.02 1732.8v6.5M1151.03 1732.8v6.5M1226.04 1732.8v6.5M1301.06 1732.8v6.5M1376.07 1732.8v6.5M1451.08 1732.8v6.5M1526.09 1732.8v6.5M963.5 2072.32h6.5M963.5 1987.44h6.5M963.5 1902.56h6.5M963.5 1817.68h6.5M963.5 1732.8h6.5M1563.6 2096.57h-6.5M1563.6 2035.94h-6.5M1563.6 1975.31h-6.5M1563.6 1914.69h-6.5M1563.6 1854.06h-6.5M1563.6 1793.43h-6.5"/>
<path class="or" d="M1557.1 1732.8h6.9"/>
<path class="be" d="M1001.01 1930.69V2122.28M995.61 1930.69h10.8M995.61 2122.28h10.8"/>
<circle class="bc" cx="1001.81" cy="2026.48" r="5.1"/>
<path class="be" d="M1076.02 1956.16V2082.26M1070.62 1956.16h10.8M1070.62 2082.26h10.8"/>
<circle class="bc" cx="1076.82" cy="2019.21" r="5.1"/>
<path class="be" d="M1151.03 2097.06V2098.27M1145.63 2097.06h10.8M1145.63 2098.27h10.8"/>
<circle class="bc" cx="1151.83" cy="2097.66" r="5.1"/>
<path class="be" d="M1226.04 1766.02V2040.07M1220.64 1766.02h10.8M1220.64 2040.07h10.8"/>
<circle class="bc" cx="1226.84" cy="1903.05" r="5.1"/>
<path class="be" d="M1301.06 2097.06V2098.27M1295.66 2097.06h10.8M1295.66 2098.27h10.8"/>
<circle class="bc" cx="1301.86" cy="2097.66" r="5.1"/>
<path class="be" d="M1376.07 2085.66V2099.24M1370.67 2085.66h10.8M1370.67 2099.24h10.8"/>
<circle class="bc" cx="1376.87" cy="2092.45" r="5.1"/>
<path class="be" d="M1451.08 2097.06V2098.27M1445.68 2097.06h10.8M1445.68 2098.27h10.8"/>
<circle class="bc" cx="1451.88" cy="2097.66" r="5.1"/>
<path class="be" d="M1526.09 2088.45V2099.85M1520.69 2088.45h10.8M1520.69 2099.85h10.8"/>
<circle class="bc" cx="1526.89" cy="2094.15" r="5.1"/>
<text class="tl" transform="translate(936.61 2167.7)">0</text>
<text class="tl" transform="translate(913.41 2082.82)">0.2</text>
<text class="tl" transform="translate(912.78 1997.94)">0.4</text>
<text class="tl" transform="translate(913.2 1913.06)">0.6</text>
<text class="tl" transform="translate(913.2 1828.18)">0.8</text>
<text class="tl" clip-path="url(#k0)" transform="translate(937.99 1743.3)">1</text>
<text class="tl" transform="translate(1572.8 2167.7)">-0.5</text>
<text class="tl" transform="translate(1572.8 2107.07)">0</text>
<text class="tl" transform="translate(1572.8 2046.44)">0.5</text>
<text class="tl" clip-path="url(#k0)" transform="translate(1572.8 1985.81)">1</text>
<text class="tl" clip-path="url(#k1)" transform="translate(1572.8 1925.19)">1.5</text>
<text class="tl" transform="translate(1572.8 1864.56)">2</text>
<text class="tl" transform="translate(1572.8 1803.93)">2.5</text>
<text class="tl" transform="translate(1572.8 1743.3)">3</text>
<text class="xt" x="983.41" y="2178.8">APE</text>
<text class="xt" x="1062.03" y="2178.8">PE</text>
<text class="xt" x="1140.29" y="2178.8">Sh</text>
<text class="xt" x="1214.54" y="2175.5">Sp</text>
<text class="xt" x="1291.75" y="2178.8">Ts</text>
<text class="xt" x="1361.46" y="2178.8">S2</text>
<text class="xt" x="1439.39" y="2178.8">S1</text>
<text class="xt" x="1510.06" y="2178.8">Ren</text>
<text class="ti" x="1194.39" y="1722.2">Pt8</text>
<text class="lb" x="1157.71" y="2228.7">Entropies</text>
<text class="lb" transform="translate(893.2 1944.4) rotate(-90)" x="-29.57" y="0">AUC</text>
<text class="lb" transform="translate(1642 1941) rotate(-90)" x="-57.06" y="0">Weights</text>
</g>
</svg>
</body>
</html>
